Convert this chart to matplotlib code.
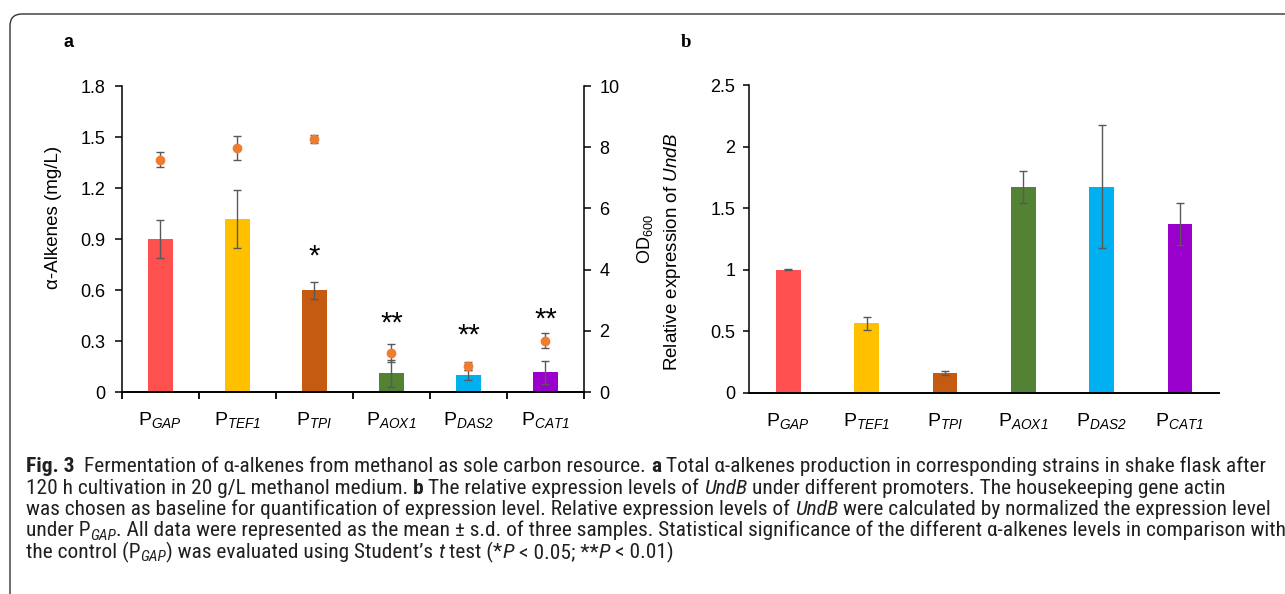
#fig3_promoters.py

import numpy as np
import matplotlib
matplotlib.use('Agg')
import matplotlib.pyplot as plt
from matplotlib import font_manager
from matplotlib.patches import FancyBboxPatch
from matplotlib.transforms import IdentityTransform

promoters = ['GAP', 'TEF1', 'TPI', 'AOX1', 'DAS2', 'CAT1']
bar_colors = ['#FF5050', '#FFC000', '#C55A11', '#548235', '#00B0F0', '#9900CC']

#panel a: alkenes titre (left axis) and OD600 (right axis)
alkenes = [0.90, 1.02, 0.60, 0.11, 0.10, 0.115]
alkenes_err = [0.11, 0.17, 0.05, 0.08, 0.03, 0.07]
od600 = [7.6, 7.98, 8.27, 1.28, 0.85, 1.68]
od600_err = [0.25, 0.4, 0.12, 0.3, 0.12, 0.25]
signif = ['', '', '*', '**', '**', '**']
signif_y = [0, 0, 0.80, 0.40, 0.33, 0.425]

#panel b: relative expression of UndB
expression = [1.0, 0.565, 0.16, 1.675, 1.675, 1.375]
expression_err = [0.003, 0.05, 0.015, 0.13, 0.5, 0.17]

plt.rcParams['font.family'] = ['Liberation Sans', 'DejaVu Sans']
#digits in subscripts should be italic too, so rm is italic and sf is upright
plt.rcParams['mathtext.fontset'] = 'custom'
plt.rcParams['mathtext.rm'] = 'Liberation Sans:italic'
plt.rcParams['mathtext.it'] = 'Liberation Sans:italic'
plt.rcParams['mathtext.sf'] = 'Liberation Sans'

ticklabels = [r'$\mathsf{P}_{%s}$' % p for p in promoters]
err_kw = dict(ecolor='#595959', elinewidth=1, capsize=3, capthick=1)

fig = plt.figure(figsize=(12.85, 5.94), dpi=100)
x = np.arange(len(promoters))

# ---- panel a
ax = fig.add_axes([0.0949, 0.340, 0.3595, 0.515])
ax.bar(x, alkenes, width=0.32, color=bar_colors, yerr=alkenes_err,
       error_kw=err_kw, zorder=2)
ax.set_xlim(-0.5, 5.5)
ax.set_ylim(0, 1.8)
yt = np.arange(0, 1.81, 0.3)
ax.set_yticks(yt)
ax.set_yticklabels(['0'] + ['%.1f' % v for v in yt[1:]])
ax.set_xticks(x)
ax.set_xticklabels(ticklabels, fontsize=14)
ax.set_xticks(np.arange(-0.5, 6, 1), minor=True)
ax.tick_params(axis='x', which='major', length=0, pad=13)
ax.tick_params(axis='x', which='minor', length=5, width=1.3, direction='out')
ax.tick_params(axis='y', length=5, width=1.1, pad=7, labelsize=13)
ax.spines['top'].set_visible(False)
ax.spines['right'].set_visible(False)
ax.spines['left'].set_linewidth(1.1)
ax.spines['bottom'].set_linewidth(1.4)
ax.set_ylabel(u'\u03b1-Alkenes (mg/L)', fontsize=13.5)
ax.yaxis.set_label_coords(-0.13, 0.57)

for xi, s, sy in zip(x, signif, signif_y):
    if s:
        ax.text(xi, sy, s, ha='center', va='center', fontsize=21)

ax2 = ax.twinx()
ax2.errorbar(x, od600, yerr=od600_err, fmt='o', color='#ED7D31',
             markersize=6, **err_kw)
ax2.set_ylim(0, 10)
ax2.set_yticks(np.arange(0, 11, 2))
ax2.tick_params(axis='y', length=5, width=1.1, pad=6, labelsize=13)
for s in ['top', 'left', 'bottom']:
    ax2.spines[s].set_visible(False)
ax2.spines['right'].set_linewidth(1.1)
ax2.set_ylabel(r'OD$_{\mathsf{600}}$', fontsize=13)
ax2.yaxis.set_label_coords(1.11, 0.5)

# ---- panel b
bx = fig.add_axes([0.5829, 0.3384, 0.3658, 0.5185])
bx.bar(x, expression, width=0.315, color=bar_colors, yerr=expression_err,
       error_kw=err_kw)
bx.set_xlim(-0.5, 5.5)
bx.set_ylim(0, 2.5)
bx.set_yticks([0, 0.5, 1, 1.5, 2, 2.5])
bx.set_yticklabels(['0', '0.5', '1', '1.5', '2', '2.5'])
bx.set_xticks(x)
bx.set_xticklabels(ticklabels, fontsize=14)
bx.tick_params(axis='x', length=0, pad=13)
bx.tick_params(axis='y', length=4, width=1.1, pad=6, labelsize=13)
bx.spines['top'].set_visible(False)
bx.spines['right'].set_visible(False)
bx.spines['left'].set_linewidth(1.1)
bx.spines['bottom'].set_linewidth(1.4)
bx.set_ylabel(r'Relative expression of $UndB$', fontsize=13.5)
bx.yaxis.set_label_coords(-0.14, 0.458)

fig.text(0.053, 0.929, 'a', fontsize=13, fontweight='bold', family='Liberation Sans',
         ha='center', va='center')
fig.text(0.534, 0.929, 'b', fontsize=13.5, fontweight='bold', family='Liberation Serif',
         ha='center', va='center')

#rounded frame, only the top-left corner is inside the picture
frame = FancyBboxPatch((10, -30), 1320, 610, boxstyle='round,pad=0,rounding_size=12',
                       transform=IdentityTransform(), fill=False,
                       edgecolor='#333333', linewidth=1.0)
fig.patches.append(frame)

# ---- caption
names = set(f.name for f in font_manager.fontManager.ttflist)
cap_font = dict(family='DejaVu Sans', stretch='condensed')
for nm in ['Liberation Sans Narrow', 'Roboto Condensed', 'Open Sans Condensed']:
    if nm in names:
        cap_font = dict(family=nm)
        break

caption = [
    [('Fig. 3', 'b'), ('  Fermentation of \u03b1-alkenes from methanol as sole carbon resource. ', ''),
     ('a', 'b'), (' Total \u03b1-alkenes production in corresponding strains in shake flask after', '')],
    [('120 h cultivation in 20 g/L methanol medium. ', ''), ('b', 'b'),
     (' The relative expression levels of ', ''), ('UndB', 'i'),
     (' under different promoters. The housekeeping gene actin', '')],
    [('was chosen as baseline for quantification of expression level. Relative expression levels of ', ''),
     ('UndB', 'i'), (' were calculated by normalized the expression level', '')],
    [('under P', ''), ('GAP', 'sub'),
     ('. All data were represented as the mean \u00b1 s.d. of three samples. Statistical significance of the different \u03b1-alkenes levels in comparison with', '')],
    [('the control (P', ''), ('GAP', 'sub'), (') was evaluated using Student\u2019s ', ''), ('t', 'i'),
     (' test (*', ''), ('P', 'i'), (' < 0.05; **', ''), ('P', 'i'), (' < 0.01)', '')],
]
#right end of each caption line in the reference (pixels)
line_ends = [1262, 1090, 1278, 1278, 664]

renderer = fig.canvas.get_renderer()


def style_kw(style):
    kw = dict(cap_font)
    if style == 'b':
        kw['fontweight'] = 'bold'
    if style in ('i', 'sub'):
        kw['fontstyle'] = 'italic'
    return kw


def text_width(s, size, style):
    t = fig.text(0, 0, s, fontsize=size, transform=IdentityTransform(), **style_kw(style))
    w = t.get_window_extent(renderer).width
    t.remove()
    return w


def line_width(parts, size):
    space = text_width('a a', size, '') - text_width('aa', size, '')
    w = 0
    for s, style in parts:
        core = s.strip(' ')
        fs = size * 0.72 if style == 'sub' else size
        w += text_width(core, fs, style) + (len(s) - len(core)) * space
    return w


def draw_line(parts, x0, y0, size):
    space = text_width('a a', size, '') - text_width('aa', size, '')
    xx = x0
    for s, style in parts:
        lead = len(s) - len(s.lstrip(' '))
        trail = len(s) - len(s.rstrip(' '))
        core = s.strip(' ')
        xx += lead * space
        fs = size * 0.72 if style == 'sub' else size
        yy = y0 - 3 if style == 'sub' else y0
        t = fig.text(xx, yy, core, fontsize=fs, va='baseline', ha='left',
                     transform=IdentityTransform(), color='#231f20', **style_kw(style))
        xx = t.get_window_extent(renderer).x1 + trail * space


#one font size so that the long lines fit the reference widths
size = min(10.0 * (line_ends[i] - 26) / line_width(caption[i], 10.0) for i in (0, 2, 3))

baselines = [472, 493.5, 515, 536.5, 558]
for parts, yb in zip(caption, baselines):
    draw_line(parts, 26, 594 - yb, size)

fig.savefig('out.png', dpi=100)
